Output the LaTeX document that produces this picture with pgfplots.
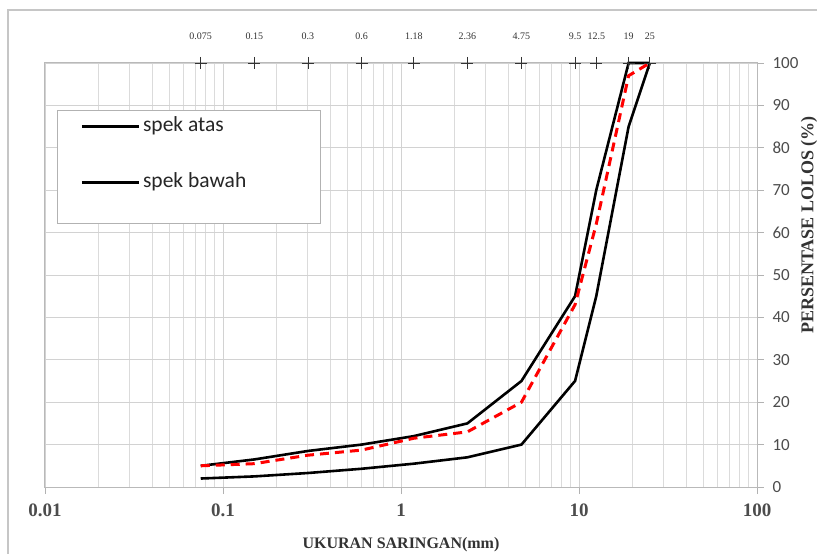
\documentclass[border=0pt]{standalone}
\usepackage{fontspec}
\setmainfont{Liberation Serif}
\newfontfamily\calibri{Carlito}
\usepackage{pgfplots}
\pgfplotsset{compat=1.18}

\begin{document}
\begin{tikzpicture}
\begin{axis}[
    name=ax,
    xmode=log,
    width=712pt, height=424pt,
    scale only axis,
    xmin=0.01, xmax=100,
    ymin=0, ymax=100,
    clip=false,
    /pgf/number format/assume math mode=true,
    xtick={0.01,0.1,1,10,100},
    xticklabels={0.01,0.1,1,10,100},
    minor xtick={0.02,0.03,0.04,0.05,0.06,0.07,0.08,0.09,
                 0.2,0.3,0.4,0.5,0.6,0.7,0.8,0.9,
                 2,3,4,5,6,7,8,9,
                 20,30,40,50,60,70,80,90},
    ytick={0,10,...,100},
    xtick pos=lower,
    ytick pos=upper,
    yticklabel pos=right,
    tick align=outside,
    major tick length=7pt,
    minor tick length=0pt,
    tick style={gray!60, line width=0.8pt},
    axis line style={gray!55, line width=1pt},
    grid=both,
    major grid style={gray!35, line width=0.9pt},
    minor grid style={gray!28, line width=0.9pt},
    xticklabel style={font=\bfseries\fontsize{19}{21}\selectfont, text=black!70, yshift=-6pt},
    yticklabel style={font=\calibri\fontsize{17}{20}\selectfont, text=black!70, xshift=5pt},
    xlabel={UKURAN SARINGAN(mm)},
    xlabel style={font=\bfseries\fontsize{16}{18}\selectfont, text=black!80,
                  at={(axis description cs:0.5,0)}, anchor=center, yshift=-58pt},
    ylabel={PERSENTASE LOLOS (\%)},
    ylabel style={font=\bfseries\fontsize{18}{20}\selectfont, text=black!80,
                  at={(axis description cs:1.0730,0.618)}, anchor=center, rotate=0},
    legend cell align=left,
    legend image code/.code={
        \path (0pt,0pt) -- (0pt,0pt);
        \draw[#1] (23pt,12.5pt) -- (80pt,12.5pt);
    },
    legend style={
        at={(0.01685,0.8892)}, anchor=north west,
        draw=gray!60, line width=1pt, fill=white,
        inner xsep=0pt, inner ysep=6pt,
        row sep=11pt, column sep=3pt,
        font=\calibri\fontsize{21.5}{24}\selectfont, text=black!85,
        nodes={inner sep=0pt, text height=15pt, text depth=30pt},
    },
]

% spek atas (batas atas)
\addplot[black, line width=2.6pt] coordinates {
    (0.075,5) (0.15,6.5) (0.3,8.5) (0.6,10) (1.18,12) (2.36,15)
    (4.75,25) (9.5,45) (12.5,70) (19,100) (25,100)
};
\addlegendentry{\makebox[177pt][l]{spek atas}}

% spek bawah (batas bawah)
\addplot[black, line width=2.6pt] coordinates {
    (0.075,2) (0.15,2.5) (0.3,3.3) (0.6,4.3) (1.18,5.5) (2.36,7)
    (4.75,10) (9.5,25) (12.5,45) (19,85) (25,100)
};
\addlegendentry{\makebox[177pt][l]{spek bawah}}

% hasil gradasi
\addplot[red, line width=3pt, dash pattern=on 9pt off 6pt, forget plot] coordinates {
    (0.075,5) (0.15,5.5) (0.3,7.5) (0.6,8.7) (1.18,11.5) (2.36,13)
    (4.75,20) (9.5,43) (12.5,62) (19,97) (25,100)
};

% ukuran saringan di tepi atas
\addplot[black!80, only marks, mark=+, mark size=6pt, line width=0.8pt,
    point meta=explicit symbolic, nodes near coords, forget plot,
    every node near coord/.append style={anchor=center, yshift=27pt,
        font=\fontsize{10}{11}\selectfont, text=black!80}]
    coordinates {
    (0.075,100) [0.075] (0.15,100) [0.15] (0.3,100) [0.3] (0.6,100) [0.6]
    (1.18,100) [1.18] (2.36,100) [2.36] (4.75,100) [4.75] (9.5,100) [9.5]
    (12.5,100) [12.5] (19,100) [19] (25,100) [25]
};

\end{axis}
\draw[gray!45, line width=1.5pt]
    ([shift={(-37pt,-100pt)}]ax.south west) |- ([shift={(100pt,53pt)}]ax.north east);
\pgfresetboundingbox
\path ([shift={(-45pt,-66pt)}]ax.south west) rectangle ([shift={(60pt,63pt)}]ax.north east);
\end{tikzpicture}
\end{document}
